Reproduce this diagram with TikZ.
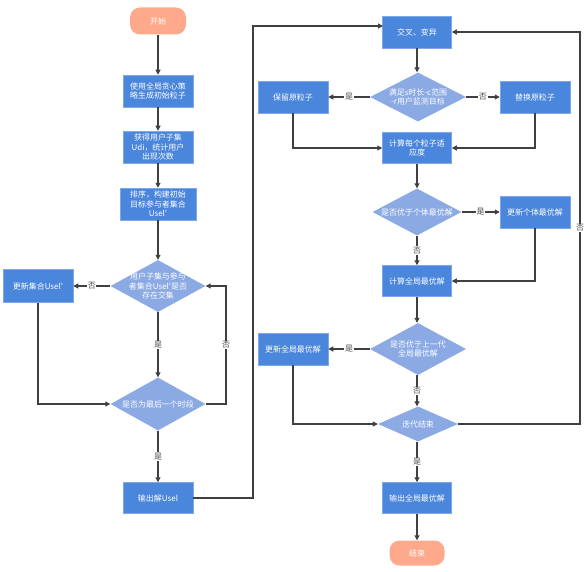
\documentclass[tikz,border=0pt]{standalone}
\usepackage{fontspec}
\usepackage{tikz}
\usetikzlibrary{shapes.geometric,arrows.meta}
\newfontfamily\cjk{Noto Sans CJK SC}
\definecolor{procblue}{HTML}{4A86DC}
\definecolor{procedge}{HTML}{7FA8E8}
\definecolor{decblue}{HTML}{8BA9E3}
\definecolor{termred}{HTML}{FFA98C}
\definecolor{linegray}{HTML}{404040}
\definecolor{labgray}{HTML}{4A4A4A}
\tikzset{
    every node/.style={font=\cjk\fontsize{8}{9.5}\selectfont, inner sep=0mm},
    termbox/.style={rectangle, rounded corners=10bp, fill=termred, text=white, minimum width=56bp, minimum height=27bp},
    procbox/.style={rectangle, fill=procblue, draw=procedge, line width=.5bp, text=white, align=center, minimum width=70bp, minimum height=32bp},
    decision/.style={diamond, fill=decblue, minimum width=95bp, minimum height=52bp},
    dtext/.style={text=white, align=center},
    flow/.style={draw=linegray, line width=1.1bp, -{Triangle[length=5bp,width=5bp]}},
    branch/.style={fill=white, text=labgray, inner sep=.6bp}
}
\begin{document}
\begin{tikzpicture}[x=1bp, y=-1bp]
        \useasboundingbox (0,0) rectangle (588,572);
        % left column
        \node (start) [termbox] at (158, 21) {开始};
        \node (init) [procbox] at (158, 91) {使用全局贪心策\\略生成初始粒子};
        \node (subset) [procbox] at (158, 147) {获得用户子集\\Udi，统计用户\\出现次数};
        \node (sortb) [procbox, minimum width=76bp] at (158, 204) {排序，构建初始\\目标参与者集合\\Usel'};
        \node (dcross) [decision] at (158, 286) {};
        \node [dtext] at (dcross) {用户子集与参与\\者集合Usel'是否\\存在交集};
        \node (updsel) [procbox, minimum height=33bp] at (38, 286) {更新集合Usel'};
        \node (dlast) [decision, minimum height=53bp] at (158, 404) {};
        \node [dtext] at (dlast) {是否为最后一个时段};
        \node (outsel) [procbox, minimum height=31bp] at (158, 498) {输出解Usel};
        % right column
        \node (cross) [procbox, minimum width=69bp] at (417, 32) {交叉、变异};
        \node (dmon) [decision, minimum width=96bp, minimum height=49bp] at (418, 97) {};
        \node [dtext] at (dmon) {满足s时长-c范围\\-r用户监测目标};
        \node (keep) [procbox] at (293, 97) {保留原粒子};
        \node (repl) [procbox] at (535, 97) {替换原粒子};
        \node (fit) [procbox, minimum width=69bp, minimum height=31bp] at (417, 148) {计算每个粒子适\\应度};
        \node (dpbest) [decision, minimum width=89bp, minimum height=47bp] at (417, 212) {};
        \node [dtext] at (dpbest) {是否优于个体最优解};
        \node (updp) [procbox] at (535, 212) {更新个体最优解};
        \node (gcalc) [procbox, minimum width=69bp, minimum height=31bp] at (417, 281) {计算全局最优解};
        \node (dgbest) [decision, minimum width=96bp] at (418, 349) {};
        \node [dtext] at (dgbest) {是否优于上一代\\全局最优解};
        \node (updg) [procbox] at (293, 349) {更新全局最优解};
        \node (dend) [decision, minimum width=80bp, minimum height=35bp] at (418, 424) {};
        \node [dtext] at (dend) {迭代结束};
        \node (outg) [procbox, minimum width=69bp, minimum height=31bp] at (417, 498) {输出全局最优解};
        \node (stop) [termbox, minimum width=55bp, minimum height=25bp] at (417, 553) {结束};
        \coordinate (crossin) at (383, 26);
        % connectors, left
        \draw [flow] (start) -- (init);
        \draw [flow] (init) -- (subset);
        \draw [flow] (subset) -- (sortb);
        \draw [flow] (sortb) -- (dcross);
        \draw [flow] (dcross.west) -- node [branch] {否} (updsel.east);
        \draw [flow] (dcross.south) -- node [branch] {是} (dlast.north);
        \draw [flow] (dlast.east) -- (226, 404) -- node [branch] {否} (226, 286) -- (dcross.east);
        \draw [flow] (updsel.south) |- (dlast.west);
        \draw [flow] (dlast.south) -- node [branch] {是} (outsel.north);
        \draw [flow] (outsel.east) -- (253, 498) |- (crossin);
        % connectors, right
        \draw [flow] (cross.south) -- (cross.south |- dmon.north);
        \draw [flow] (dmon.west) -- node [branch] {是} (keep.east);
        \draw [flow] (dmon.east) -- node [branch] {否} (repl.west);
        \draw [flow] (keep.south) |- (fit.west);
        \draw [flow] (repl.south) |- (fit.east);
        \draw [flow] (fit.south) -- (fit.south |- dpbest.north);
        \draw [flow] (dpbest.east) -- node [branch] {是} (updp.west);
        \draw [flow] (dpbest.south) -- node [branch] {否} (gcalc.north);
        \draw [flow] (updp.south) |- (gcalc.east);
        \draw [flow] (gcalc.south) -- (gcalc.south |- dgbest.north);
        \draw [flow] (dgbest.west) -- node [branch] {是} (updg.east);
        \draw [flow] (dgbest.south -| gcalc.south) -- node [branch] {否} (dend.north -| gcalc.south);
        \draw [flow] (updg.south) |- (dend.west);
        \draw [flow] (dend.east) -- (580, 424) -- node [branch] {否} (580, 32) -- (cross.east);
        \draw [flow] (dend.south -| outg.north) -- node [branch] {是} (outg.north);
        \draw [flow] (outg) -- (stop);
\end{tikzpicture}
\end{document}
